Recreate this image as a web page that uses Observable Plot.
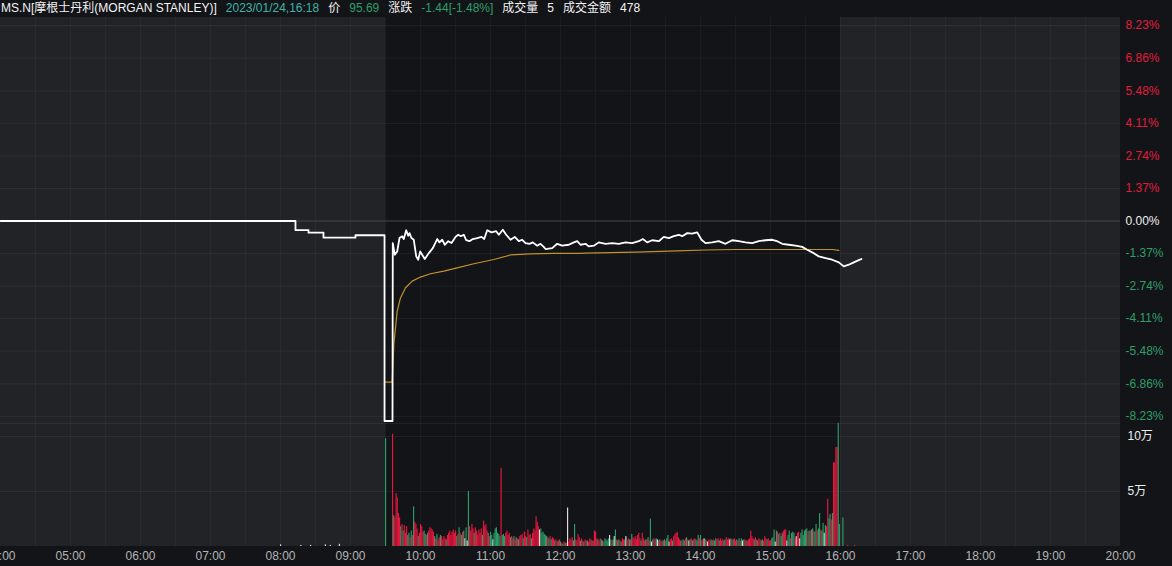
<!DOCTYPE html>
<html><head><meta charset="utf-8">
<script src="https://cdn.jsdelivr.net/npm/d3@7"></script>
<script src="https://cdn.jsdelivr.net/npm/@observablehq/plot@0.6"></script>
<style>
html,body{margin:0;padding:0;background:#131418;width:1172px;height:566px;overflow:hidden;font-family:"Liberation Sans",Arial,"Noto Sans CJK SC",sans-serif;}
#hdr{height:17px;line-height:16px;font-size:12px;color:#f0f0f0;white-space:nowrap;padding-left:1px;}
#hdr span{margin-right:9px}
svg{display:block}
</style></head><body>
<div id="hdr"></div>
<div id="price"></div>
<div id="vol"></div>
<script>
// ---------- header ----------
const headerTexts = ["MS.N[摩根士丹利(MORGAN STANLEY)]", "2023/01/24,16:18", "价", "95.69", "涨跌", "-1.44[-1.48%]", "成交量", "5", "成交金额", "478"];
const headerColors = ["#f2f2f2", "#3db3a6", "#f2f2f2", "#2f9e6a", "#f2f2f2", "#2f9e6a", "#f2f2f2", "#f2f2f2", "#f2f2f2", "#f2f2f2"];

// ---------- sessions ----------
const sessionStart = [4, 9.5, 16];
const sessionEnd = [9.5, 16, 20];
const sessionFill = ["#222327", "#131418", "#222327"];

// ---------- axes ----------
const pctTicks = [8.23, 6.86, 5.48, 4.11, 2.74, 1.37, 0, -1.37, -2.74, -4.11, -5.48, -6.86, -8.23];
const hourTicks = [4, 5, 6, 7, 8, 9, 10, 11, 12, 13, 14, 15, 16, 17, 18, 19, 20];
const volTicks = [50000, 100000];
const volTickLabels = ["5万", "10万"];

// ---------- price (% change vs prev close), time in hours ----------
const priceHour = [4, 8.214, 8.214, 8.4, 8.4, 8.614, 8.614, 9.071, 9.071, 9.486, 9.486, 9.6,
  9.604, 9.633, 9.667, 9.7, 9.738, 9.761, 9.796, 9.824, 9.843, 9.871,
  9.904, 9.939, 9.967, 9.996, 10.024, 10.061, 10.119, 10.176, 10.239, 10.271,
  10.31, 10.347, 10.396, 10.443, 10.5, 10.539, 10.576, 10.619, 10.653, 10.7,
  10.747, 10.81, 10.871, 10.91, 10.953, 11.014, 11.081, 11.119, 11.176, 11.224,
  11.286, 11.347, 11.404, 11.453, 11.5, 11.557, 11.604, 11.667, 11.714, 11.761,
  11.786, 11.881, 11.953, 12.024, 12.119, 12.19, 12.239, 12.286, 12.357, 12.404,
  12.476, 12.547, 12.643, 12.739, 12.833, 12.929, 13.024, 13.119, 13.176, 13.239,
  13.31, 13.404, 13.476, 13.547, 13.619, 13.69, 13.739, 13.81, 13.881, 13.953, 14.014,
  14.071, 14.167, 14.261, 14.357, 14.453, 14.547, 14.643, 14.739, 14.833, 14.929,
  15.024, 15.096, 15.167, 15.261, 15.357, 15.453, 15.524, 15.596, 15.69, 15.786,
  15.881, 15.976, 16.047, 16.119, 16.19, 16.261, 16.3];
const pricePct = [0, 0, -0.38, -0.38, -0.49, -0.49, -0.70, -0.70, -0.60, -0.60, -8.42, -8.42,
  -0.93, -1.42, -1.28, -0.72, -0.64, -0.76, -0.39, -0.62, -0.51, -0.72,
  -0.79, -1.49, -1.63, -1.28, -1.42, -1.60, -1.35, -1.14, -0.76, -0.90,
  -0.79, -1.00, -0.85, -0.93, -0.67, -0.58, -0.64, -0.58, -0.81, -0.85,
  -0.76, -0.72, -0.67, -0.76, -0.39, -0.48, -0.43, -0.58, -0.37, -0.58,
  -0.79, -0.67, -0.85, -0.79, -0.93, -0.96, -0.90, -1.04, -0.96, -1.09,
  -1.18, -1.14, -0.96, -1.04, -1.00, -0.90, -0.85, -1.00, -0.96, -1.07,
  -1.04, -0.90, -0.96, -0.93, -0.96, -0.90, -0.93, -0.85, -0.76, -0.90,
  -0.81, -0.85, -0.67, -0.72, -0.64, -0.58, -0.64, -0.51, -0.53, -0.48, -0.79,
  -0.93, -0.90, -0.85, -0.96, -0.81, -0.85, -0.90, -0.93, -0.85, -0.81,
  -0.79, -0.85, -0.96, -1.00, -1.04, -1.09, -1.21, -1.32, -1.49, -1.56,
  -1.63, -1.74, -1.91, -1.84, -1.74, -1.65, -1.60];

// ---------- average price line ----------
const vwapHour = [9.5, 9.595, 9.619, 9.643, 9.667, 9.714, 9.786, 9.881, 10.0, 10.143, 10.333, 10.524, 10.762, 11.048, 11.286, 11.571, 11.905, 12.286, 12.357, 13.071, 13.667, 14.071, 14.5, 15.881, 15.976];
const vwapPct = [-6.78, -6.78, -5.19, -4.49, -3.79, -3.24, -2.81, -2.53, -2.36, -2.22, -2.11, -1.97, -1.80, -1.62, -1.43, -1.38, -1.36, -1.36, -1.35, -1.31, -1.26, -1.22, -1.20, -1.20, -1.24];

// ---------- volume per minute from 09:30 (thousand shares) ----------
const volK = [
  98,0,0,0,0,0,102,28,26,48,   44,30,26,18,20,14,19,12,18,10,
  12,8,14,10,36,22,20,16,9,12,  20,18,13,14,11,10,12,14,17,16,
  15,13,9,7,11,6,8,10,9,6,      9,7,6,10,12,14,10,13,15,12,
  14,9,11,17,12,10,13,14,7,17,  5,50,18,14,20,16,12,17,14,10,
  15,12,16,10,23,18,20,14,12,9, 13,10,6,12,16,17,12,11,9,71,
  10,11,9,12,14,10,12,8,9,7,    9,6,8,7,6,9,10,11,7,13,
  9,8,15,10,11,7,12,16,14,27,   22,18,15,16,12,13,11,10,9,8,
  7,9,6,8,7,5,6,4,5,6,          4,3,2,4,3,3,35,4,7,6,
  8,5,20,6,5,11,8,5,7,5,        4,6,5,5,4,7,6,5,5,14,
  13,7,6,5,7,6,5,4,7,6,         5,7,10,6,5,6,9,15,6,5,
  6,5,4,7,6,6,9,5,7,6,          6,11,8,7,9,6,10,12,7,5,
  12,7,5,6,6,8,5,25,4,6,        7,6,7,6,5,6,4,5,5,6,
  5,7,10,4,6,7,5,9,11,12,       13,8,6,5,5,6,5,7,8,6,
  5,6,7,5,6,7,6,5,10,7,         10,5,6,7,6,5,4,6,5,6,
  5,6,5,7,6,7,5,7,5,6,          5,6,8,6,7,6,7,6,6,7,
  5,6,5,7,5,7,5,6,6,5,          5,6,7,14,9,7,6,8,6,5,
  7,6,5,6,5,9,7,6,7,5,          5,7,8,15,4,14,13,11,12,9,
  12,14,15,15,5,10,14,7,12,13,  12,7,9,12,13,7,12,15,10,14,
  15,16,13,14,14,15,16,14,13,20, 14,16,30,15,14,21,12,19,18,43,
  25,29,24,30,76,76,90,90,112,20];
const volDir = [
  "gwwwwwrgrr","rrrgrgrrrg","grgrgrrrgr","rrrggrgrrr","rrgrgrrgrr","rrgrrrrrrr",
  "rgrgrgrgwg","wgrrrrgrrr","rrrgrrrrgr","ggwggggggr","gggrrrrgrr","grgrgrrrgr",
  "rgrrrgrrrr","rrwggggggr","grgrrgrrgr","grgrgrwrrr","rggrrrrgrr","grrgrrrgrr",
  "rrgrrggrgg","ggwgrgwgrg","grgrrgwrrg","rgrrrrrrrg","rrrgrgrgwg","rrgwrgrrgg",
  "rggwrrgrrr","rrrgrggrgr","wgrgrrgggr","grrwgrwrrg","grggrrgrrr","ggrrrwgrgr",
  "rgrgrgwgrg","rrrrrrgrrg","rrggrrrgrr","rgggwgrgrg","grrrwggrgg","grwrrwgggg",
  "ggrgrggrgg","rggrggwgrr","ggrgrrrrgg"].join("");
// extended-hours prints
const extHour = [8.0, 8.29, 8.43, 8.64, 8.71, 8.84, 16.033, 16.1, 16.2];
const extK = [1.5, 1, 1, 1.5, 1, 2, 26, 1, 1];
const extDir = "wwwwwwgrr";

// ---------- build ----------
const RED = "#e5173f", GREEN = "#2b9b68", WHITE = "#dcdcdc";
const dirColor = {r: RED, g: GREEN, w: WHITE};
const FONT = "'Liberation Sans', Arial, 'Noto Sans CJK SC', sans-serif";

const hdr = document.getElementById("hdr");
headerTexts.forEach((t, i) => {
  const s = document.createElement("span");
  s.textContent = t; s.style.color = headerColors[i];
  hdr.appendChild(s);
});

const sessions = sessionStart.map((s, i) => ({s, e: sessionEnd[i], fill: sessionFill[i]}));
const price = priceHour.map((h, i) => ({h, p: pricePct[i]}));
const vwap = vwapHour.map((h, i) => ({h, p: vwapPct[i]}));
const vols = volK.map((v, i) => ({h: 9.5 + i / 60, v: v * 1000, c: dirColor[volDir[i]]}))
  .concat(extHour.map((h, i) => ({h, v: extK[i] * 1000, c: dirColor[extDir[i]]})));
const gridHours = d3.range(4.5, 20, 0.5);

const xDomain = [4, 20];
const priceY = [-8.525, 8.567];
const volY = [0, 111800];

const priceChart = Plot.plot({
  width: 1172, height: 406,
  marginLeft: 0, marginRight: 52, marginTop: 0, marginBottom: 0,
  x: {domain: xDomain, axis: null},
  y: {domain: priceY, axis: null},
  color: {type: "identity"},
  style: {background: "transparent", fontFamily: FONT, fontSize: "12px", overflow: "visible"},
  marks: [
    Plot.rect(sessions, {x1: "s", x2: "e", y1: priceY[0], y2: priceY[1], fill: "fill"}),
    Plot.ruleX(gridHours, {stroke: "#ffffff", strokeOpacity: 0.035}),
    Plot.ruleY(pctTicks.filter(d => d !== 0), {stroke: "#ffffff", strokeOpacity: 0.05}),
    Plot.ruleY([0], {stroke: "#46474c", strokeWidth: 1}),
    Plot.line(vwap, {x: "h", y: "p", stroke: "#c0922a", strokeWidth: 1.2}),
    Plot.line(price, {x: "h", y: "p", stroke: "#ffffff", strokeWidth: 1.8}),
    Plot.text(pctTicks.filter(d => d > 0), {y: d => d, text: d => d.toFixed(2) + "%", frameAnchor: "right", dx: 5, textAnchor: "start", fill: "#e01e3c", fontSize: 12}),
    Plot.text(pctTicks.filter(d => d === 0), {y: d => d, text: d => d.toFixed(2) + "%", frameAnchor: "right", dx: 5, textAnchor: "start", fill: "#ededed", fontSize: 12}),
    Plot.text(pctTicks.filter(d => d < 0), {y: d => d, text: d => d.toFixed(2) + "%", frameAnchor: "right", dx: 5, textAnchor: "start", fill: "#2e9e68", fontSize: 12})
  ]
});
document.getElementById("price").appendChild(priceChart);

const volChart = Plot.plot({
  width: 1172, height: 143,
  marginLeft: 0, marginRight: 52, marginTop: 0, marginBottom: 20,
  x: {domain: xDomain, axis: null},
  y: {domain: volY, axis: null},
  color: {type: "identity"},
  style: {background: "transparent", fontFamily: FONT, fontSize: "12px", overflow: "visible"},
  marks: [
    Plot.rect(sessions, {x1: "s", x2: "e", y1: volY[0], y2: volY[1], fill: "fill"}),
    Plot.ruleX(gridHours, {stroke: "#ffffff", strokeOpacity: 0.035}),
    Plot.ruleY(volTicks, {stroke: "#ffffff", strokeOpacity: 0.05}),
    Plot.ruleY([volY[1]], {stroke: "#ffffff", strokeOpacity: 0.06}),
    Plot.rectY(vols, {x1: "h", x2: d => d.h + 1 / 60, y: "v", fill: "c", insetRight: 0}),
    Plot.text(volTicks, {y: d => d, text: (d, i) => volTickLabels[i], frameAnchor: "right", dx: 7, textAnchor: "start", fill: "#ededed", fontSize: 12}),
    Plot.text(hourTicks, {x: d => d, text: d => String(d).padStart(2, "0") + ":00", frameAnchor: "bottom", dy: 13, fill: "#b4b4b4", fontSize: 12})
  ]
});
document.getElementById("vol").appendChild(volChart);
</script>
</body></html>
